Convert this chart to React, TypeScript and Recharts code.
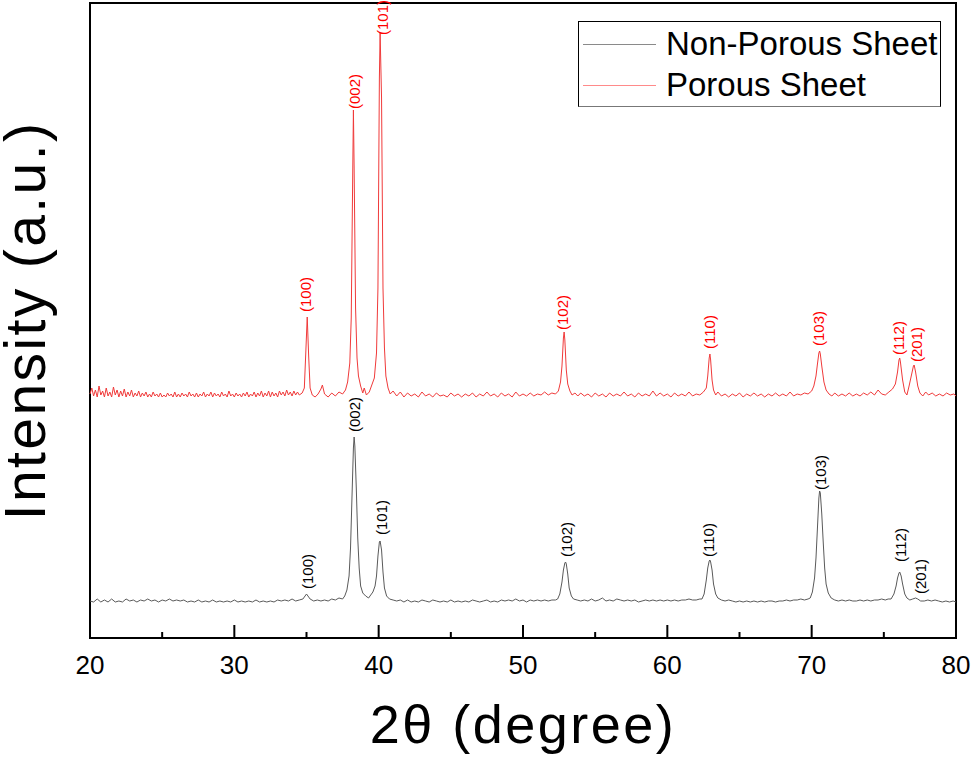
import { ComposedChart, Line, Scatter, XAxis, YAxis, ReferenceArea, Legend, Label } from 'recharts'

// 2θ (deg), intensity (a.u., offset stack)
const porous: [number, number][] = [
  [20.0, 244], [20.125, 250], [20.25, 242], [20.375, 248], [20.5, 241], [20.625, 252], [20.75, 243], [20.875, 247],
  [21.0, 241], [21.125, 250], [21.25, 242], [21.375, 246], [21.5, 241], [21.625, 251], [21.75, 243], [21.875, 248],
  [22.0, 241], [22.125, 247], [22.25, 242], [22.375, 249], [22.5, 241], [22.625, 246], [22.75, 242], [22.875, 248],
  [23.0, 241], [23.125, 245], [23.25, 242], [23.375, 247], [23.5, 241], [23.625, 245], [23.75, 242], [23.875, 246],
  [24.0, 241], [24.125, 244], [24.25, 241], [24.375, 246], [24.5, 242], [24.625, 244], [24.75, 241], [24.875, 245],
  [25.0, 241], [25.125, 243], [25.25, 241], [25.375, 245], [25.5, 242], [25.625, 244], [25.75, 241], [25.875, 246],
  [26.0, 241], [26.125, 244], [26.25, 241], [26.375, 245], [26.5, 242], [26.625, 244], [26.75, 241], [26.875, 246],
  [27.0, 242], [27.125, 244], [27.25, 241], [27.375, 245], [27.5, 241], [27.625, 244], [27.75, 242], [27.875, 246],
  [28.0, 241], [28.125, 244], [28.25, 242], [28.375, 246], [28.5, 241], [28.625, 245], [28.75, 242], [28.875, 244],
  [29.0, 241], [29.125, 246], [29.25, 242], [29.375, 244], [29.5, 241], [29.625, 247], [29.75, 242], [29.875, 244],
  [30.0, 241], [30.125, 245], [30.25, 242], [30.375, 244], [30.5, 241], [30.625, 245], [30.75, 242], [30.875, 246],
  [31.0, 241], [31.125, 244], [31.25, 242], [31.375, 246], [31.5, 241], [31.625, 245], [31.75, 242], [31.875, 247],
  [32.0, 241], [32.125, 245], [32.25, 242], [32.375, 247], [32.5, 241], [32.625, 246], [32.75, 242], [32.875, 245],
  [33.0, 241], [33.125, 247], [33.25, 243], [33.375, 246], [33.5, 242], [33.625, 248], [33.75, 243], [33.875, 246],
  [34.0, 242], [34.125, 247], [34.25, 243], [34.375, 246], [34.5, 243], [34.7, 245], [34.85, 250], [34.95, 285],
  [35.05, 321], [35.15, 282], [35.25, 250], [35.4, 243], [35.6, 241], [35.8, 244], [36.0, 249], [36.1, 253],
  [36.25, 244], [36.5, 241], [36.75, 245], [37.0, 242], [37.25, 246], [37.5, 244], [37.7, 248], [37.85, 256],
  [38.0, 275], [38.1, 320], [38.2, 460], [38.25, 528], [38.3, 470], [38.4, 330], [38.5, 280], [38.6, 262],
  [38.75, 252], [38.9, 245], [39.0, 250], [39.15, 243], [39.35, 246], [39.5, 252], [39.7, 260], [39.85, 285],
  [39.95, 350], [40.05, 560], [40.1, 605], [40.2, 540], [40.3, 350], [40.4, 290], [40.5, 262], [40.65, 250],
  [40.8, 244], [41.0, 247], [41.25, 242], [41.5, 246], [41.75, 241], [42.0, 245], [42.25, 242], [42.5, 244],
  [42.75, 241], [43.0, 246], [43.25, 242], [43.5, 244], [43.75, 241], [44.0, 245], [44.25, 242], [44.5, 243],
  [44.75, 241], [45.0, 245], [45.25, 242], [45.5, 244], [45.75, 241], [46.0, 244], [46.25, 242], [46.5, 245],
  [46.75, 241], [47.0, 244], [47.25, 242], [47.5, 246], [47.75, 242], [48.0, 244], [48.25, 241], [48.5, 245],
  [48.75, 242], [49.0, 244], [49.25, 241], [49.5, 246], [49.75, 242], [50.0, 244], [50.25, 242], [50.5, 245],
  [50.75, 242], [51.0, 244], [51.25, 243], [51.5, 246], [51.75, 243], [52.0, 245], [52.25, 244], [52.45, 247],
  [52.6, 256], [52.7, 272], [52.8, 300], [52.85, 306], [52.9, 298], [53.0, 268], [53.1, 254], [53.25, 247],
  [53.4, 243], [53.6, 245], [53.8, 242], [54.0, 245], [54.25, 242], [54.5, 244], [54.75, 241], [55.0, 245],
  [55.25, 242], [55.5, 244], [55.75, 241], [56.0, 245], [56.25, 242], [56.5, 244], [56.75, 242], [57.0, 246],
  [57.25, 242], [57.5, 244], [57.75, 241], [58.0, 245], [58.25, 242], [58.5, 244], [58.75, 242], [59.0, 247],
  [59.25, 242], [59.5, 245], [59.75, 242], [60.0, 244], [60.25, 241], [60.5, 245], [60.75, 242], [61.0, 244],
  [61.25, 242], [61.5, 246], [61.75, 242], [62.0, 244], [62.25, 243], [62.5, 246], [62.7, 250], [62.8, 262],
  [62.9, 280], [62.95, 284], [63.0, 278], [63.1, 258], [63.2, 248], [63.35, 243], [63.5, 246], [63.75, 242],
  [64.0, 244], [64.25, 241], [64.5, 244], [64.75, 242], [65.0, 245], [65.25, 241], [65.5, 244], [65.75, 242],
  [66.0, 245], [66.25, 242], [66.5, 244], [66.75, 241], [67.0, 244], [67.25, 242], [67.5, 245], [67.75, 242],
  [68.0, 244], [68.25, 242], [68.5, 246], [68.75, 242], [69.0, 244], [69.25, 243], [69.5, 245], [69.75, 244],
  [70.0, 247], [70.15, 252], [70.3, 262], [70.4, 274], [70.5, 285], [70.55, 287], [70.6, 284], [70.7, 272],
  [70.85, 256], [71.0, 248], [71.2, 244], [71.4, 242], [71.6, 245], [71.85, 242], [72.1, 244], [72.35, 242],
  [72.6, 245], [72.85, 242], [73.1, 244], [73.35, 242], [73.6, 245], [73.85, 243], [74.1, 246], [74.35, 243],
  [74.6, 248], [74.85, 244], [75.1, 243], [75.35, 246], [75.6, 249], [75.8, 254], [75.95, 266], [76.05, 278],
  [76.1, 280], [76.15, 276], [76.3, 258], [76.45, 246], [76.6, 243], [76.75, 252], [76.9, 262], [77.05, 272],
  [77.1, 273], [77.2, 266], [77.35, 252], [77.5, 245], [77.7, 242], [77.9, 246], [78.1, 243], [78.35, 245],
  [78.6, 242], [78.85, 244], [79.1, 242], [79.35, 245], [79.6, 243], [79.85, 244], [80.0, 242],
]

const nonPorous: [number, number][] = [
  [20.0, 37], [20.25, 36], [20.5, 39], [20.75, 36], [21.0, 38], [21.25, 36], [21.5, 39], [21.75, 36],
  [22.0, 37], [22.25, 36], [22.5, 39], [22.75, 37], [23.0, 38], [23.25, 36], [23.5, 38], [23.75, 37],
  [24.0, 39], [24.25, 37], [24.5, 38], [24.75, 36], [25.0, 38], [25.25, 37], [25.5, 39], [25.75, 37],
  [26.0, 38], [26.25, 37], [26.5, 38], [26.75, 36], [27.0, 37], [27.25, 36], [27.5, 38], [27.75, 36],
  [28.0, 37], [28.25, 36], [28.5, 38], [28.75, 36], [29.0, 37], [29.25, 36], [29.5, 37], [29.75, 36],
  [30.0, 38], [30.25, 36], [30.5, 37], [30.75, 36], [31.0, 37], [31.25, 36], [31.5, 38], [31.75, 36],
  [32.0, 37], [32.25, 36], [32.5, 37], [32.75, 36], [33.0, 38], [33.25, 37], [33.5, 38], [33.75, 37],
  [34.0, 39], [34.25, 37], [34.5, 38], [34.75, 39], [34.9, 42], [35.0, 44], [35.1, 42], [35.25, 39],
  [35.5, 37], [35.75, 38], [36.0, 37], [36.25, 38], [36.5, 37], [36.75, 39], [37.0, 38], [37.25, 40],
  [37.5, 39], [37.65, 42], [37.8, 48], [37.95, 62], [38.05, 90], [38.15, 140], [38.25, 190], [38.3, 201],
  [38.35, 192], [38.45, 150], [38.55, 100], [38.65, 70], [38.75, 52], [38.9, 45], [39.1, 42], [39.3, 40],
  [39.45, 43], [39.6, 46], [39.75, 52], [39.85, 62], [39.95, 82], [40.05, 96], [40.1, 97], [40.2, 88],
  [40.3, 66], [40.4, 50], [40.55, 42], [40.75, 39], [41.0, 38], [41.25, 37], [41.5, 38], [41.75, 36],
  [42.0, 38], [42.25, 36], [42.5, 37], [42.75, 36], [43.0, 38], [43.25, 37], [43.5, 36], [43.75, 38],
  [44.0, 37], [44.25, 36], [44.5, 37], [44.75, 36], [45.0, 38], [45.25, 36], [45.5, 37], [45.75, 36],
  [46.0, 37], [46.25, 36], [46.5, 38], [46.75, 37], [47.0, 36], [47.25, 37], [47.5, 38], [47.75, 36],
  [48.0, 37], [48.25, 36], [48.5, 38], [48.75, 37], [49.0, 38], [49.25, 37], [49.5, 39], [49.75, 37],
  [50.0, 38], [50.25, 36], [50.5, 38], [50.75, 37], [51.0, 38], [51.25, 37], [51.5, 38], [51.75, 37],
  [52.0, 38], [52.25, 38], [52.4, 39], [52.55, 44], [52.7, 56], [52.8, 68], [52.9, 75], [52.95, 76],
  [53.0, 74], [53.1, 64], [53.2, 50], [53.35, 42], [53.5, 39], [53.75, 38], [54.0, 37], [54.25, 38],
  [54.5, 37], [54.75, 39], [55.0, 37], [55.25, 38], [55.5, 40], [55.75, 37], [56.0, 38], [56.25, 37],
  [56.5, 39], [56.75, 38], [57.0, 37], [57.25, 38], [57.5, 37], [57.75, 38], [58.0, 36], [58.25, 37],
  [58.5, 38], [58.75, 37], [59.0, 38], [59.25, 37], [59.5, 38], [59.75, 37], [60.0, 38], [60.25, 37],
  [60.5, 38], [60.75, 37], [61.0, 38], [61.25, 38], [61.5, 39], [61.75, 38], [62.0, 38], [62.25, 39],
  [62.4, 39], [62.55, 44], [62.7, 58], [62.8, 70], [62.9, 77], [62.95, 78], [63.0, 76], [63.1, 68],
  [63.2, 54], [63.35, 44], [63.5, 40], [63.75, 38], [64.0, 37], [64.25, 38], [64.5, 37], [64.75, 36],
  [65.0, 37], [65.25, 36], [65.5, 37], [65.75, 36], [66.0, 37], [66.25, 36], [66.5, 37], [66.75, 36],
  [67.0, 37], [67.25, 37], [67.5, 36], [67.75, 37], [68.0, 37], [68.25, 38], [68.5, 37], [68.75, 38],
  [69.0, 38], [69.25, 39], [69.5, 38], [69.75, 39], [69.9, 40], [70.05, 46], [70.2, 60], [70.3, 80],
  [70.4, 110], [70.5, 140], [70.55, 147], [70.6, 145], [70.7, 124], [70.8, 96], [70.9, 70], [71.0, 54],
  [71.15, 45], [71.35, 40], [71.6, 38], [71.85, 37], [72.1, 38], [72.35, 37], [72.6, 38], [72.85, 37],
  [73.1, 37], [73.35, 38], [73.6, 37], [73.85, 38], [74.1, 37], [74.35, 38], [74.6, 38], [74.85, 39],
  [75.1, 38], [75.3, 39], [75.5, 39], [75.7, 44], [75.85, 52], [75.95, 60], [76.05, 65], [76.1, 66],
  [76.2, 62], [76.3, 54], [76.45, 44], [76.6, 40], [76.8, 38], [77.0, 39], [77.2, 40], [77.35, 39],
  [77.55, 37], [77.8, 37], [78.05, 38], [78.3, 37], [78.55, 38], [78.8, 37], [79.05, 36], [79.3, 37],
  [79.55, 36], [79.8, 37], [80.0, 36],
]

// peak labels: [2θ, height of label foot, hkl]
const porousPeaks: [number, number, string][] = [
  [34.94, 326, '(100)'], [38.3, 529, '(002)'], [40.24, 603, '(101)'], [52.71, 308, '(102)'],
  [62.9, 289, '(110)'], [70.45, 292, '(103)'], [76.0, 283, '(112)'], [77.24, 276, '(201)'],
]
const nonPorousPeaks: [number, number, string][] = [
  [35.08, 49, '(100)'], [38.36, 206, '(002)'], [40.17, 103, '(101)'], [52.99, 81, '(102)'],
  [62.83, 81, '(110)'], [70.59, 148, '(103)'], [76.13, 76, '(112)'], [77.52, 44, '(201)'],
]

const xTicks = [20, 25, 30, 35, 40, 45, 50, 55, 60, 65, 70, 75, 80]

const FONT = '"Liberation Sans", Arial, Helvetica, sans-serif'
const RED = '#f03a3a'
const GRAY = '#5a5a5a'

const toPts = (arr: [number, number][]) => arr.map(([a, v]) => ({ a, v }))
const toLabels = (arr: [number, number, string][]) => arr.map(([a, v, t]) => ({ a, v, t }))

function Tick(props: any) {
  const { x, y, payload } = props
  const major = payload.value % 10 === 0
  return (
    <g>
      <line x1={x} x2={x} y1={y} y2={y - (major ? 13 : 6)} stroke="#000" strokeWidth={2} />
      {major && (
        <text x={x} y={y + 36} textAnchor="middle" fontSize={26} fontFamily={FONT} fill="#000">
          {payload.value}
        </text>
      )}
    </g>
  )
}

const peakLabel = (color: string) => (p: any) => (
  <text
    x={p.cx} y={p.cy}
    transform={`rotate(-90 ${p.cx} ${p.cy})`}
    textAnchor="start" dominantBaseline="central"
    fontSize={15} fontFamily={FONT} fill={color}
  >
    {p.payload.t}
  </text>
)

function LegendBox() {
  return (
    <div style={{
      position: 'relative', width: 361, height: 84, border: '1px solid #000', borderBottomColor: '#777',
      background: '#fff', fontFamily: FONT, fontSize: 33, color: '#000', boxSizing: 'content-box',
    }}>
      {[['Non-Porous Sheet', '#8a8a8a'], ['Porous Sheet', '#ff8a8a']].map(([name, c], i) => (
        <div key={name} style={{ position: 'absolute', left: 0, top: i === 0 ? 2 : 43, height: 40, display: 'flex', alignItems: 'center', whiteSpace: 'nowrap' }}>
          <span style={{ display: 'inline-block', width: 73, height: 1, background: c, marginLeft: 4, marginRight: 10 }} />
          <span>{name}</span>
        </div>
      ))}
    </div>
  )
}

export default function App() {
  return (
    <div style={{ position: 'absolute', left: 0, top: 0 }}>
      <ComposedChart width={974} height={764} margin={{ top: 3, right: 18, bottom: 0, left: 0 }}>
        <XAxis
          dataKey="a" type="number" domain={[20, 80]} ticks={xTicks} interval={0}
          height={126} tickSize={0} tickMargin={0} axisLine={false} tickLine={false} tick={<Tick />}
        >
          <Label value="2θ (degree)" position="insideBottom" offset={21} fontSize={54} fontFamily={FONT} fill="#000" style={{ letterSpacing: '2.5px' }} />
        </XAxis>
        <YAxis dataKey="v" type="number" domain={[0, 635]} width={90} tick={false} axisLine={false} tickLine={false}>
          <Label value="Intensity (a.u.)" position="center" angle={-90} dx={-20} dy={0} fontSize={57} fontFamily={FONT} fill="#000" style={{ letterSpacing: '2.4px' }} />
        </YAxis>
        <ReferenceArea x1={20} x2={80} y1={0} y2={635} fill="none" stroke="#000" strokeWidth={2} ifOverflow="visible" />
        <Line data={toPts(nonPorous)} dataKey="v" type="linear" stroke={GRAY} strokeWidth={1} dot={false} isAnimationActive={false} />
        <Line data={toPts(porous)} dataKey="v" type="linear" stroke={RED} strokeWidth={1} dot={false} isAnimationActive={false} />
        <Scatter data={toLabels(porousPeaks)} dataKey="v" shape={peakLabel('#ff0000')} isAnimationActive={false} />
        <Scatter data={toLabels(nonPorousPeaks)} dataKey="v" shape={peakLabel('#000')} isAnimationActive={false} />
        <Legend
          content={<LegendBox />}
          verticalAlign="middle" layout="horizontal"
          wrapperStyle={{ left: 578, top: 21, width: 363, height: 86 }}
        />
      </ComposedChart>
    </div>
  )
}
